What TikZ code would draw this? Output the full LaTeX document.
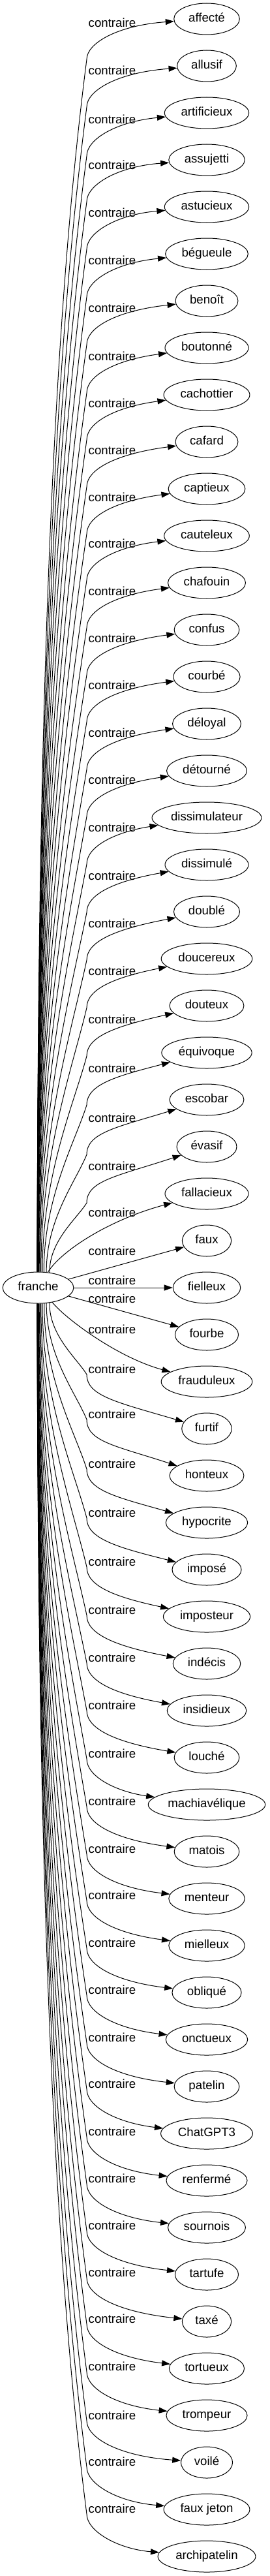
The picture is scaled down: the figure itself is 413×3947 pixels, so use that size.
\documentclass[tikz,border=0pt]{standalone}
\usepackage{fontspec}
\setmainfont{Liberation Sans}
\usetikzlibrary{shapes.geometric,arrows.meta}
\begin{document}
\begin{tikzpicture}[x=1pt,y=-1pt]
\fontsize{18.67pt}{22.4pt}\selectfont
\tikzset{
  word/.style={ellipse, draw, line width=1pt, minimum height=48pt, inner xsep=0pt, inner ysep=2pt, text height=13.6pt, text depth=3.9pt},
  lab/.style={inner sep=0pt, text height=13.6pt, text depth=3.9pt},
  conn/.style={line width=1pt, -{Triangle[length=13pt,width=9pt]}}
}
\useasboundingbox (0,0) rectangle (413,3947);
\node[word, minimum width=108.7pt] (franche) at (58.5,1973) {franche};
\foreach \i/\w/\L in {0/affecté/35, 1/allusif/108, 2/artificieux/183, 3/assujetti/253, 4/astucieux/326, 5/bégueule/399, 6/benoît/472, 7/boutonné/546, 8/cachottier/618, 9/cafard/690, 10/captieux/762, 11/cauteleux/833, 12/chafouin/906, 13/confus/978, 14/courbé/1050, 15/déloyal/1123, 16/détourné/1195, 17/dissimulateur/1268, 18/dissimulé/1342, 19/doublé/1415, 20/doucereux/1488, 21/douteux/1562, 22/équivoque/1637, 23/escobar/1713, 24/évasif/1787, 25/fallacieux/1858, 26/faux/1917, 27/fielleux/1962, 28/fourbe/1990, 29/frauduleux/2037, 30/furtif/2098, 31/honteux/2167, 32/hypocrite/2243, 33/imposé/2318, 34/imposteur/2393, 35/indécis/2467, 36/insidieux/2540, 37/louché/2613, 38/machiavélique/2687, 39/matois/2760, 40/menteur/2833, 41/mielleux/2904, 42/obliqué/2977, 43/onctueux/3049, 44/patelin/3122, 45/ChatGPT3/3193, 46/renfermé/3266, 47/sournois/3338, 48/tartufe/3410, 49/taxé/3482, 50/tortueux/3553, 51/trompeur/3626, 52/voilé/3701, 53/faux jeton/3772, 54/archipatelin/3844}{
  \pgfmathsetmacro\mw{1.24*width("\w")+31.5}
  \pgfmathsetmacro\ny{29+72*\i}
  \node[word, minimum width=\mw pt] (n\i) at (317,\ny) {\w};
  \node[lab] (l\i) at (172,\L+2) {contraire};
}
% upper edges
\foreach \i/\L in {0/35, 1/108, 2/183, 3/253, 4/326, 5/399, 6/472, 7/546, 8/618, 9/690, 10/762, 11/833, 12/906, 13/978, 14/1050, 15/1123, 16/1195, 17/1268, 18/1342, 19/1415, 20/1488, 21/1562, 22/1637, 23/1713, 24/1787}{
  \pgfmathsetmacro\y{29+72*\i}
  \pgfmathsetmacro\by{\L+56}
  \pgfmathsetmacro\off{\by-\y}
  \pgfmathsetmacro\len{1949-\by}
  \pgfmathsetmacro\sx{57+28*exp(-\len/250)}
  \pgfmathsetmacro\dx{\sx-58.5}
  \pgfmathtruncatemacro\ang{atan2(24*sqrt(1-(\dx/54.35)^2),\dx)}
  \pgfmathsetmacro\cay{1949-0.45*\len}
  \pgfmathsetmacro\cbx{133-12-0.022*\len}
  \pgfmathsetmacro\cby{\by+0.22*\len}
  \pgfmathsetmacro\ccy{\by-0.4*\off}
  \pgfmathsetmacro\cdy{\y+10+1.6*max(0,\off-64)}
  \draw[conn] (franche.\ang) .. controls (\sx,\cay) and (\cbx,\cby) .. (133,\by) .. controls (133,\ccy) and (180,\cdy) .. (n\i);
}
% lower edges
\foreach \i/\L in {30/2098, 31/2167, 32/2243, 33/2318, 34/2393, 35/2467, 36/2540, 37/2613, 38/2687, 39/2760, 40/2833, 41/2904, 42/2977, 43/3049, 44/3122, 45/3193, 46/3266, 47/3338, 48/3410, 49/3482, 50/3553, 51/3626, 52/3701, 53/3772, 54/3844}{
  \pgfmathsetmacro\y{29+72*\i}
  \pgfmathsetmacro\by{\L+8}
  \pgfmathsetmacro\off{\y-\by}
  \pgfmathsetmacro\len{\by-1997}
  \pgfmathsetmacro\sx{57+28*exp(-\len/250)}
  \pgfmathsetmacro\dx{\sx-58.5}
  \pgfmathtruncatemacro\ang{-atan2(24*sqrt(1-(\dx/54.35)^2),\dx)}
  \pgfmathsetmacro\cay{1997+0.45*\len}
  \pgfmathsetmacro\cbx{133-12-0.022*\len}
  \pgfmathsetmacro\cby{\by-0.22*\len}
  \pgfmathsetmacro\ccy{\by+0.4*\off}
  \pgfmathsetmacro\cdy{\y-10-1.6*max(0,\off-64)}
  \draw[conn] (franche.\ang) .. controls (\sx,\cay) and (\cbx,\cby) .. (133,\by) .. controls (133,\ccy) and (180,\cdy) .. (n\i);
}
% edges near the centre
\draw[conn] (franche.58) .. controls (95,1915) and (170,1868) .. (n25);
\draw[conn] (franche) -- (n26);
\draw[conn] (franche) -- (n27);
\draw[conn] (franche) -- (n28);
\draw[conn] (franche.-46) .. controls (100,2020) and (180,2080) .. (n29);
\end{tikzpicture}
\end{document}
